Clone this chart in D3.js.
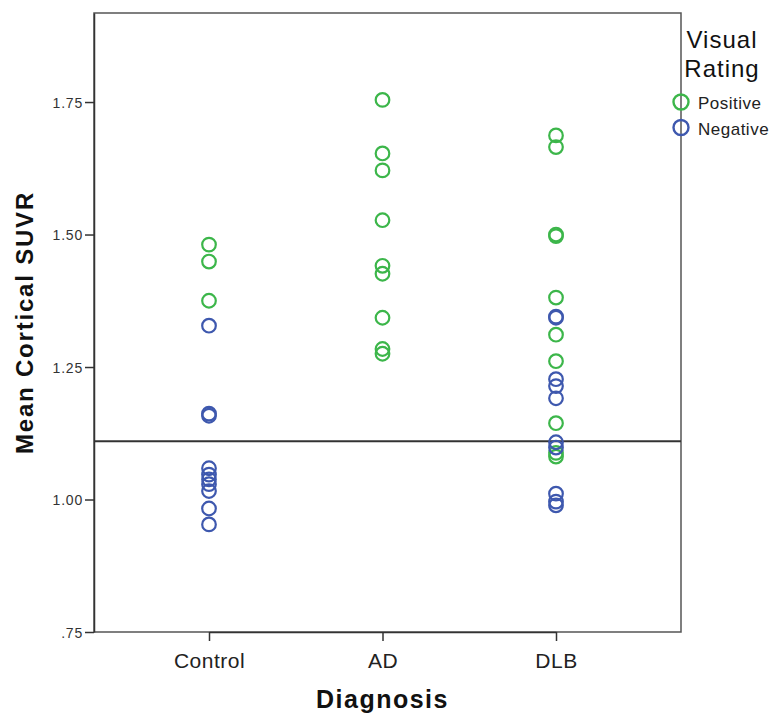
<!DOCTYPE html>
<html>
<head>
<meta charset="utf-8">
<script src="https://cdn.jsdelivr.net/npm/d3@7"></script>
<style>
  body { margin: 0; background: #fff; }
  svg text { font-family: "Liberation Sans", Arial, sans-serif; }
</style>
</head>
<body>
<div id="plot-container"></div>
<script>
// Data
const diagnoses = ['Control', 'AD', 'DLB'];
const ratings = ['Positive', 'Negative'];
const controlPositive = [1.481, 1.449, 1.375];
const controlNegative = [1.328, 1.162, 1.158, 1.059, 1.047, 1.038, 1.029, 1.016, 0.983, 0.953];
const adPositive = [1.754, 1.653, 1.621, 1.527, 1.441, 1.426, 1.343, 1.284, 1.275];
const adNegative = [];
const dlbPositive = [1.687, 1.665, 1.500, 1.497, 1.381, 1.311, 1.261, 1.144, 1.088, 1.081];
const dlbNegative = [1.345, 1.343, 1.227, 1.214, 1.191, 1.108, 1.098, 1.011, 0.996, 0.989];
const yTicks = [0.75, 1.00, 1.25, 1.50, 1.75];
const cutoff = 1.11;

const points = [];
[[controlPositive, controlNegative], [adPositive, adNegative], [dlbPositive, dlbNegative]].forEach((pair, i) => {
  pair[0].forEach(v => points.push({ dx: diagnoses[i], rating: 'Positive', value: v }));
  pair[1].forEach(v => points.push({ dx: diagnoses[i], rating: 'Negative', value: v }));
});

const W = 771, H = 715;
const margin = { top: 13, right: 90, bottom: 83, left: 94 };
const width = W - margin.left - margin.right;
const height = H - margin.top - margin.bottom;

const svg = d3.select('#plot-container')
  .append('svg')
  .attr('width', W)
  .attr('height', H);

const g = svg.append('g')
  .attr('transform', `translate(${margin.left},${margin.top})`);

// categories are not centred in the frame, so the range is set by hand
const xScale = d3.scalePoint()
  .domain(diagnoses)
  .range([115, width - 125]);

const yScale = d3.scaleLinear()
  .domain([0.75, 1.918])
  .range([height, 0]);

const colorScale = d3.scaleOrdinal()
  .domain(ratings)
  .range(['#3cb64a', '#3e58ae']);

// Frame
g.append('rect')
  .attr('x', 0).attr('y', 0)
  .attr('width', width).attr('height', height)
  .attr('fill', 'none')
  .attr('stroke', '#555')
  .attr('stroke-width', 1.5);

// Y axis
const yAxis = g.append('g')
  .call(d3.axisLeft(yScale)
    .tickValues(yTicks)
    .tickFormat(d => d3.format('.2f')(d).replace(/^0/, ''))
    .tickSize(9)
    .tickSizeOuter(0));
yAxis.select('.domain').attr('stroke', '#333').attr('stroke-width', 1.5);
yAxis.selectAll('.tick line').attr('stroke', '#333').attr('stroke-width', 1.5);
yAxis.selectAll('text')
  .attr('x', -11)
  .attr('dy', '0.36em')
  .style('font-size', '14px')
  .style('letter-spacing', '0.8px')
  .attr('fill', '#333');

// X axis
const xAxis = g.append('g')
  .attr('transform', `translate(0,${height})`)
  .call(d3.axisBottom(xScale).tickSize(9).tickSizeOuter(0));
xAxis.select('.domain').attr('stroke', '#333').attr('stroke-width', 1.5);
xAxis.selectAll('.tick line').attr('stroke', '#333').attr('stroke-width', 1.5);
xAxis.selectAll('text')
  .attr('y', 36)
  .attr('dy', 0)
  .style('font-size', '21px')
  .style('letter-spacing', '0.5px')
  .attr('fill', '#222');

// Reference line
g.append('line')
  .attr('x1', 0).attr('x2', width)
  .attr('y1', yScale(cutoff)).attr('y2', yScale(cutoff))
  .attr('stroke', '#333')
  .attr('stroke-width', 2);

// Points
g.selectAll('circle.pt')
  .data(points)
  .enter()
  .append('circle')
  .attr('class', 'pt')
  .attr('cx', d => xScale(d.dx))
  .attr('cy', d => yScale(d.value))
  .attr('r', 6.8)
  .attr('fill', 'none')
  .attr('stroke', d => colorScale(d.rating))
  .attr('stroke-width', 2.2);

// Axis titles
svg.append('text')
  .attr('x', margin.left + xScale('AD'))
  .attr('y', 708)
  .attr('text-anchor', 'middle')
  .style('font-size', '25px')
  .style('font-weight', 'bold')
  .style('letter-spacing', '1.5px')
  .attr('fill', '#111')
  .text('Diagnosis');

svg.append('text')
  .attr('transform', `translate(33,${margin.top + height / 2}) rotate(-90)`)
  .attr('text-anchor', 'middle')
  .style('font-size', '24px')
  .style('font-weight', 'bold')
  .style('letter-spacing', '1.8px')
  .attr('fill', '#111')
  .text('Mean Cortical SUVR');

// Legend
const legend = svg.append('g');
legend.append('text')
  .attr('x', 722).attr('y', 48)
  .attr('text-anchor', 'middle')
  .style('font-size', '24px')
  .style('letter-spacing', '1px')
  .attr('fill', '#111')
  .text('Visual');
legend.append('text')
  .attr('x', 722).attr('y', 77)
  .attr('text-anchor', 'middle')
  .style('font-size', '24px')
  .style('letter-spacing', '1px')
  .attr('fill', '#111')
  .text('Rating');

const items = legend.selectAll('g.item')
  .data(ratings)
  .enter()
  .append('g')
  .attr('class', 'item')
  .attr('transform', (d, i) => `translate(681,${102 + i * 25.5})`);
items.append('circle')
  .attr('r', 7.5)
  .attr('fill', 'none')
  .attr('stroke', d => colorScale(d))
  .attr('stroke-width', 2.4);
items.append('text')
  .attr('x', 17)
  .attr('y', 7)
  .style('font-size', '17px')
  .style('letter-spacing', '0.5px')
  .attr('fill', '#222')
  .text(d => d);
</script>
</body>
</html>
